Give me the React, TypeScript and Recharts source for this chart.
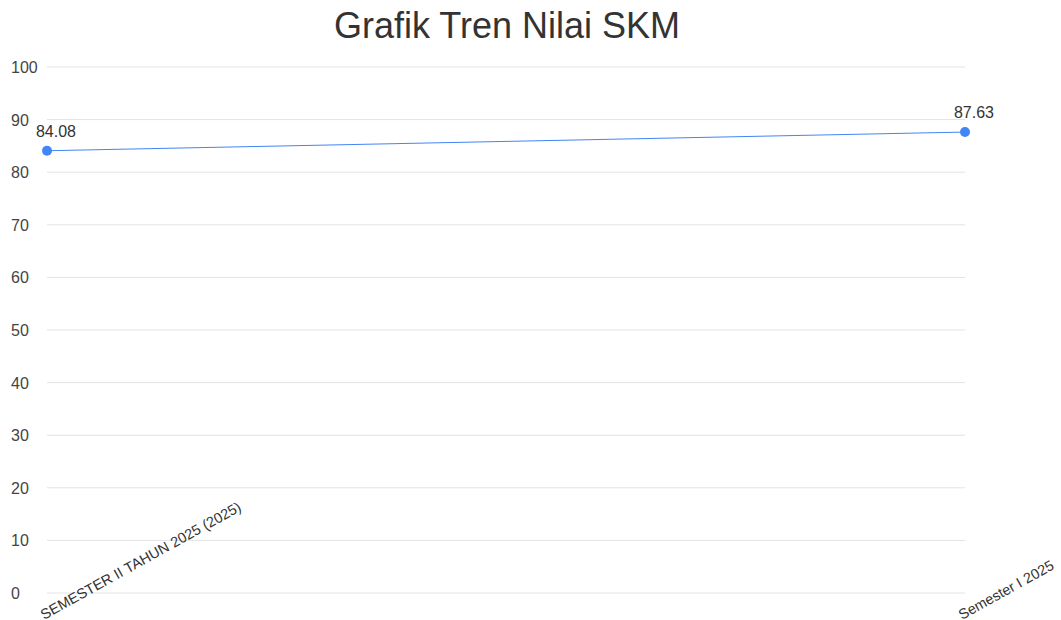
import { LineChart, Line, XAxis, YAxis, CartesianGrid, LabelList } from 'recharts';

const periods = ['SEMESTER II TAHUN 2025 (2025)', 'Semester I 2025'];
const skmValues = [84.08, 87.63];
const yTicks = [0, 10, 20, 30, 40, 50, 60, 70, 80, 90, 100];

const FONT = '"Liberation Sans", Arial, sans-serif';

const data = periods.map((p, i) => ({ period: p, value: skmValues[i] }));

function YTick(props: any) {
  const { y, payload } = props;
  return (
    <text x={11} y={y} dy={6} textAnchor="start" fontSize={16} fill="#444" fontFamily={FONT}>
      {payload.value}
    </text>
  );
}

function XTick(props: any) {
  const { x, y, payload } = props;
  return (
    <g transform={`translate(${x - 3},${y + 19})`}>
      <text transform="rotate(-29)" textAnchor="start" fontSize={14.5} fill="#333" fontFamily={FONT}>
        {payload.value}
      </text>
    </g>
  );
}

function PointLabel(props: any) {
  const { x, y, value } = props;
  return (
    <text x={x + 9} y={y - 14} textAnchor="middle" fontSize={16} fill="#333" fontFamily={FONT}>
      {value}
    </text>
  );
}

export default function App() {
  return (
    <div style={{ position: 'absolute', left: 0, top: 0, width: 1061, height: 620, background: '#fff' }}>
      <div
        style={{
          position: 'absolute',
          left: 0,
          width: 1014,
          top: 5,
          textAlign: 'center',
          fontSize: 36,
          fontFamily: FONT,
          color: '#333',
        }}
      >
        Grafik Tren Nilai SKM
      </div>
      <LineChart width={1061} height={620} data={data} margin={{ top: 67, right: 96, left: 0, bottom: 0 }}>
        <CartesianGrid vertical={false} stroke="#e3e3e3" />
        <XAxis dataKey="period" height={27} axisLine={false} tickLine={false} tick={<XTick />} interval={0} />
        <YAxis
          width={47}
          domain={[0, 100]}
          ticks={yTicks}
          axisLine={false}
          tickLine={false}
          tick={<YTick />}
        />
        <Line
          type="linear"
          dataKey="value"
          stroke="#4285f4"
          strokeWidth={1}
          dot={{ r: 5, fill: '#4285f4', stroke: 'none' }}
          isAnimationActive={false}
        >
          <LabelList dataKey="value" content={<PointLabel />} />
        </Line>
      </LineChart>
    </div>
  );
}
